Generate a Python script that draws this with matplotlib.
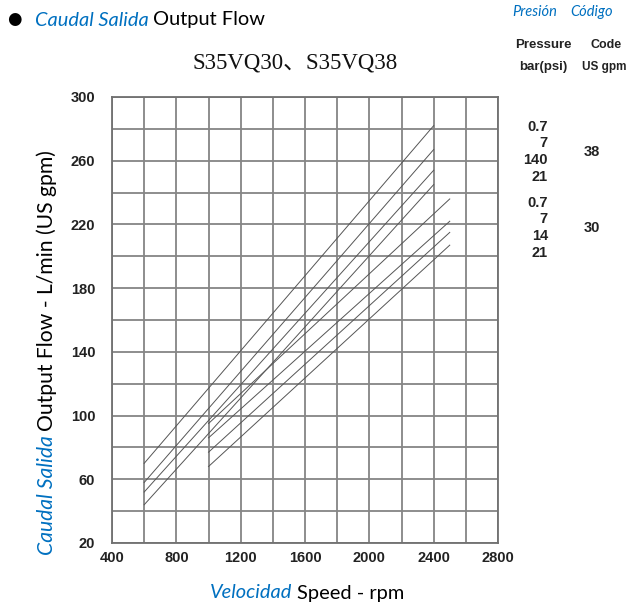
import matplotlib
matplotlib.use("Agg")
import matplotlib.pyplot as plt
from matplotlib.ticker import MultipleLocator, FixedLocator

# ---- data ----
speed_38 = [600, 2400]
flow_38 = [[70, 282], [58, 267], [52, 254], [44, 245]]
speed_30 = [1000, 2500]
flow_30 = [[95, 236], [86, 222], [77, 215], [68, 207]]

x_ticks = [400, 800, 1200, 1600, 2000, 2400, 2800]
y_ticks = [20, 60, 100, 140, 180, 220, 260, 300]

pressure_38 = ["0.7", "7", "140", "21"]
pressure_30 = ["0.7", "7", "14", "21"]
codes = ["38", "30"]

title = "S35VQ30、S35VQ38"

BLUE = "#0070C0"
NARROW = ["Liberation Sans", "DejaVu Sans"]
SERIF = ["Liberation Serif", "Noto Sans CJK SC", "DejaVu Serif"]
BODY = ["Lato", "DejaVu Sans"]
WEIGHT = "bold"

fig = plt.figure(figsize=(6.3, 6.04), dpi=100)
W, H = 630, 604
ax = fig.add_axes([112 / W, 1 - 543 / H, 386 / W, 446 / H])

for f in flow_38:
    ax.plot(speed_38, f, color="#555555", lw=0.7)
for f in flow_30:
    ax.plot(speed_30, f, color="#555555", lw=0.7)

ax.set_xlim(400, 2800)
ax.set_ylim(20, 300)
ax.xaxis.set_major_locator(FixedLocator(x_ticks))
ax.yaxis.set_major_locator(FixedLocator(y_ticks))
ax.xaxis.set_minor_locator(MultipleLocator(200))
ax.yaxis.set_minor_locator(MultipleLocator(20))
ax.grid(which="both", color="#858585", lw=1.3)
ax.set_axisbelow(True)
ax.tick_params(which="both", length=0)
ax.tick_params(axis="x", pad=6)
ax.tick_params(axis="y", pad=12)
for s in ax.spines.values():
    s.set_color("#707070")
    s.set_linewidth(1.3)
for lab in ax.get_xticklabels() + ax.get_yticklabels():
    lab.set_family(NARROW)
    lab.set_fontweight(WEIGHT)
    lab.set_fontsize(10.5)
    lab.set_color("#222222")

# title
fig.text(295 / W, 1 - 63 / H, title, ha="center", va="center",
         fontsize=16.5, family=SERIF, color="#111111")

renderer = fig.canvas.get_renderer()

def two_part(x, y, a, b, size, rotation=0):
    t1 = fig.text(x / W, 1 - y / H, a, color=BLUE, style="italic",
                  fontsize=size, family=BODY, ha="left", va="center",
                  rotation=rotation, rotation_mode="anchor")
    bb = t1.get_window_extent(renderer)
    if rotation == 0:
        x2 = x + bb.width + size * 0.3
        fig.text(x2 / W, 1 - y / H, b, color="black", fontsize=size,
                 family=BODY, ha="left", va="center")
    else:
        y2 = y - bb.height - size * 0.3
        fig.text(x / W, 1 - y2 / H, b, color="black", fontsize=size,
                 family=BODY, ha="left", va="center",
                 rotation=rotation, rotation_mode="anchor")

# top heading with bullet
fig.text(14 / W, 1 - 19 / H, "\u25CF", fontsize=12, ha="center", va="center",
         color="black", family=["DejaVu Sans"])
two_part(35, 20, "Caudal Salida", "Output Flow", 14.4)

# x label
two_part(210, 593, "Velocidad", "Speed - rpm", 14.4)
# y label
two_part(47, 555, "Caudal Salida", "Output Flow - L/min (US gpm)", 15.2, rotation=90)

# right legend
fig.text(535 / W, 1 - 12 / H, "Presión", color=BLUE, style="italic",
         fontsize=10.5, family=BODY, ha="center", va="center")
fig.text(592 / W, 1 - 12 / H, "Código", color=BLUE, style="italic",
         fontsize=10.5, family=BODY, ha="center", va="center")

def narrow(x, y, txt, ha="center", size=10.0):
    fig.text(x / W, 1 - y / H, txt, fontsize=size, family=NARROW,
             fontweight=WEIGHT, ha=ha, va="center", color="#222222")

narrow(543, 45, "Pressure", size=9.5)
narrow(543, 67, "bar(psi)", size=9.5)
narrow(606, 45, "Code", size=9)
narrow(626, 67, "US gpm", ha="right", size=8.5)

ys_38 = [127, 143, 160, 177]
ys_30 = [203, 219, 236, 253]
for txt, y in zip(pressure_38, ys_38):
    narrow(548, y, txt, ha="right", size=10.5)
for txt, y in zip(pressure_30, ys_30):
    narrow(548, y, txt, ha="right", size=10.5)
narrow(592, 152, codes[0], size=10.5)
narrow(592, 228, codes[1], size=10.5)

fig.savefig("out.png", dpi=100)
